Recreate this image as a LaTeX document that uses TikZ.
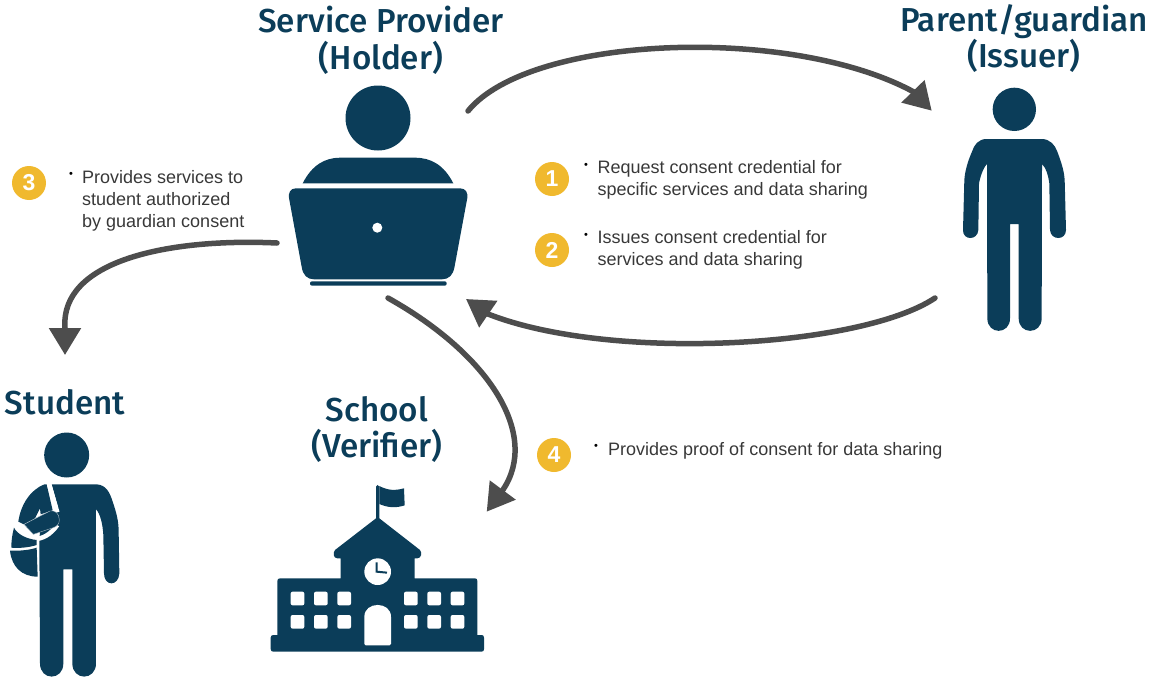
\documentclass[tikz,border=0pt]{standalone}
\usepackage{fontspec}
\setmainfont{Liberation Sans}
\newfontfamily\titlefont{Fira Sans Medium}
\usetikzlibrary{arrows.meta}
\definecolor{navy}{HTML}{0B3D59}
\definecolor{flowgray}{HTML}{4D4D4D}
\definecolor{gold}{HTML}{F0B92E}
\tikzset{
 flow/.style={draw=flowgray,line width=5.5pt,line cap=round,-{Triangle[length=27pt,width=31pt]}},
 titletext/.style={text=navy,font=\titlefont\fontsize{33.2}{36.5}\selectfont,align=center,inner sep=0pt},
 bodytext/.style={text=black!78,font=\fontsize{18}{22}\selectfont,align=left,anchor=north west,inner sep=0pt},
 bulletmark/.style={text=black,font=\fontsize{11}{11}\selectfont,inner sep=0pt},
 badge/.style={circle,fill=gold,minimum size=34pt,inner sep=0pt,text=white,font=\bfseries\fontsize{23}{23}\selectfont},
 icon/.style={fill=navy,draw=none},
 cutout/.style={fill=white,draw=none},
 cutline/.style={draw=white,line width=4.5pt},
}
\begin{document}
\begin{tikzpicture}[x=1pt,y=-1pt]
\useasboundingbox (0,0) rectangle (1153,677);
% ---- holder
\fill[icon] (378,118) circle (32.5);
\fill[icon] (302.7,183.3) .. controls (312,165) and (325,157.7) .. (340,157.7) -- (415,157.7) .. controls (431,157.7) and (444,165) .. (453.3,183.3) -- cycle;
\fill[icon] (296,188.3) -- (460,188.3) .. controls (466,188.3) and (468,193) .. (467.3,198) -- (454.5,267) .. controls (453,275) and (449,279.3) .. (442,279.3) -- (314,279.3) .. controls (307,279.3) and (303,275) .. (301.7,267) -- (289,198) .. controls (288.3,193) and (290,188.3) .. (296,188.3) -- cycle;
\fill[cutout] (377.3,227.7) circle (5);
\fill[icon,rounded corners=2pt] (310,281.3) rectangle (446.7,285.7);
% ---- issuer
\begin{scope}[shift={(950,80)},scale=1/3]
\fill[icon] (193,88) circle (65);
\fill[icon] (110,177) -- (275,177) .. controls (300,177) and (315,195) .. (322,215) .. controls (333,245) and (342,270) .. (344,300) -- (348,450) .. controls (348,482) and (302,482) .. (300,450) -- (298,310) .. controls (295,290) and (290,265) .. (276,252) -- (275,715) .. controls (275,765) and (206,765) .. (206,715) -- (206,432) -- (180,432) -- (180,715) .. controls (180,765) and (112,765) .. (112,715) -- (111,252) .. controls (98,265) and (90,295) .. (87,310) -- (85,450) .. controls (83,482) and (38,482) .. (39,450) -- (43,300) .. controls (45,270) and (55,240) .. (66,215) .. controls (72,195) and (85,177) .. (110,177) -- cycle;
\end{scope}
% ---- student
\begin{scope}[shift={(0,425)},scale=1/3]
\fill[icon] (200,90) circle (67.5);
\fill[icon] (155,178) -- (290,178) .. controls (320,180) and (330,205) .. (338,230) .. controls (350,265) and (356,290) .. (356,320) -- (358,445) .. controls (356,485) and (312,485) .. (312,445) -- (310,330) .. controls (308,295) and (300,265) .. (288,253) -- (288,715) .. controls (288,768) and (217,768) .. (217,715) -- (217,433) -- (190,433) -- (190,715) .. controls (190,768) and (120,768) .. (120,715) -- (118,345) -- (120,320) -- (150,280) -- (175,250) -- cycle;
% arm
\fill[icon] (133,178) .. controls (90,195) and (62,240) .. (55,290) -- (72,298) -- (105,280) -- (120,250) -- (122,268) -- (158,256) -- (140,178) -- cycle;
% strap and sling
\draw[cutline] (147,176) -- (172,262);
\draw[cutline] (48,305) .. controls (70,350) and (130,360) .. (172,300);
% hand
\fill[icon,draw=white!65!navy,line width=.4pt] (72,298) -- (150,258) .. controls (165,255) and (178,265) .. (178,285) .. controls (178,298) and (170,304) .. (160,308) -- (100,328) -- cycle;
% bag
\fill[icon] (42,308) .. controls (52,328) and (80,342) .. (110,345) -- (110,347) -- (110,360) .. controls (85,368) and (55,370) .. (34,368) .. controls (34,350) and (36,330) .. (42,308) -- cycle;
\fill[icon] (30,377) .. controls (60,378) and (90,375) .. (110,368) -- (113,455) .. controls (65,455) and (35,425) .. (30,377) -- cycle;
\end{scope}
% ---- verifier
\begin{scope}[shift={(260,480)},scale=1/3]
\fill[icon] (348,20) .. controls (348,13) and (358,13) .. (358,20) -- (358,115) -- (480,210) .. controls (487,218) and (484,235) .. (472,235) -- (464,235) -- (464,295) -- (645,295) .. controls (650,295) and (652,298) .. (652,303) -- (652,465) -- (665,465) .. controls (670,465) and (672,468) .. (672,473) -- (672,507) .. controls (672,512) and (670,515) .. (665,515) -- (40,515) .. controls (35,515) and (32,512) .. (32,507) -- (32,473) .. controls (32,468) and (35,465) .. (40,465) -- (52,465) -- (52,303) .. controls (52,298) and (55,295) .. (60,295) -- (242,295) -- (242,235) -- (232,235) .. controls (220,235) and (218,218) .. (225,210) -- (348,115) -- cycle;
\fill[icon] (358,18) .. controls (385,32) and (405,32) .. (432,25) -- (434,76) .. controls (410,84) and (385,84) .. (358,72) -- cycle;
\fill[cutout] (353,275) circle (40);
\draw[draw=navy,line width=2pt] (350,247) -- (350,275) -- (381,278);
\foreach \wx in {92,162,232,432,502,572}
 \foreach \wy in {335,405}
  \fill[cutout,rounded corners=2pt] (\wx,\wy) rectangle ++(41,41);
\fill[cutout,rounded corners=1.5pt] (313,496) -- (313,415) .. controls (313,363) and (393,363) .. (393,415) -- (393,496) -- cycle;
\end{scope}
% ---- endpoints
\coordinate (holderTR) at (468,111);
\coordinate (neckA) at (913.3,91.7);
\coordinate (issuerTL) at (931.7,110.7);
\coordinate (issuerBL) at (935,298);
\coordinate (neckB) at (488,314);
\coordinate (holderBR) at (466,299);
\coordinate (holderL) at (277,243);
\coordinate (neckC) at (65,328);
\coordinate (studentT) at (65,355);
\coordinate (holderB) at (388,298);
\coordinate (neckD) at (502.8,490);
\coordinate (schoolR) at (486.7,511.7);
\draw[flow] (holderTR) .. controls (530,35) and (790,25) .. (neckA) -- (issuerTL);
\draw[flow] (issuerBL) .. controls (860,348) and (610,362) .. (neckB) -- (holderBR);
\draw[flow] (holderL) .. controls (170,238) and (60,260) .. (neckC) -- (studentT);
\draw[flow] (holderB) .. controls (490,355) and (540,435) .. (neckD) -- (schoolR);
% ---- titles
\node[titletext] (tholder) at (381,40.5) {Service Provider\\(Holder)};
\node[titletext] (tissuer) at (1024,38.5) {Parent/guardian\\(Issuer)};
\node[titletext] (tstudent) at (65,402) {Student};
\node[titletext] (tschool) at (377,429.5) {School\\(Verifier)};
% ---- badges
\node[badge] (b1) at (552,179) {1};
\node[badge] (b2) at (552,250) {2};
\node[badge] (b3) at (29,183) {3};
\node[badge] (b4) at (554,455) {4};
% ---- texts
\node[bulletmark] (d1) at (586,166) {•};
\node[bodytext] (t1) at (597.5,160.5) {Request consent credential for\\specific services and data sharing};
\node[bulletmark] (d2) at (586,236) {•};
\node[bodytext] (t2) at (597.5,230.5) {Issues consent credential for\\services and data sharing};
\node[bulletmark] (d3) at (71,175) {•};
\node[bodytext] (t3) at (82,170) {Provides services to\\student authorized\\by guardian consent};
\node[bulletmark] (d4) at (596,447) {•};
\node[bodytext] (t4) at (608,442) {Provides proof of consent for data sharing};
\end{tikzpicture}
\end{document}
